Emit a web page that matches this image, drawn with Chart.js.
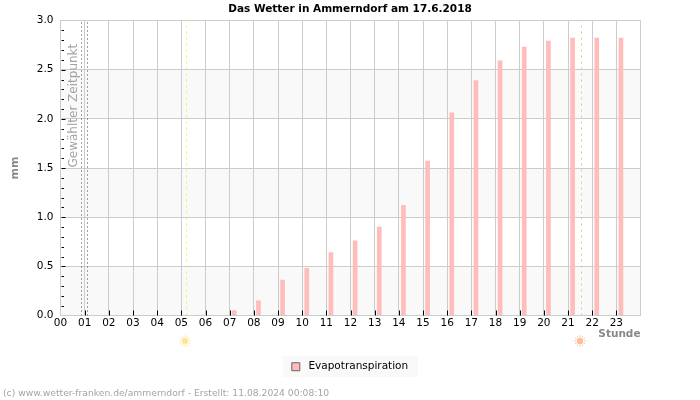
<!DOCTYPE html>
<html>
<head>
<meta charset="utf-8">
<title>Das Wetter in Ammerndorf</title>
<script src="https://cdn.jsdelivr.net/npm/chart.js@4/dist/chart.umd.min.js"></script>
<style>
    body { margin: 0; background: #fff; }
    canvas { display: block; }
</style>
</head>
<body>
<canvas id="wetter-chart" width="700" height="400"></canvas>
<script>
const hours = [7, 8, 9, 10, 11, 12, 13, 14, 15, 16, 17, 18, 19, 20, 21, 22, 23]
const evapotranspiration = [0.05, 0.15, 0.36, 0.48, 0.64, 0.76, 0.90, 1.12, 1.57, 2.06, 2.39, 2.59, 2.73, 2.79, 2.82, 2.82, 2.82]
const selectedTimes = [0.869, 1.117]
const sunrise = 5.214
const sunset = 21.559
const footerText = '(c) www.wetter-franken.de/ammerndorf - Erstellt: 11.08.2024 00:08:10'

const font = 'DejaVu Sans'
const pink = '#ffbcbc'

function vline(hour, color, dash) {
    return {
        type: 'line',
        label: 'marker',
        data: [{x: hour, y: 0}, {x: hour, y: 3}],
        borderColor: color,
        borderWidth: 1,
        borderDash: dash,
        pointRadius: 0,
        order: 1
    }
}

function drawSun(ctx, x, y, color) {
    ctx.strokeStyle = color
    ctx.fillStyle = color
    ctx.lineWidth = 1
    ctx.beginPath()
    ctx.arc(x, y, 3.2, 0, Math.PI * 2)
    ctx.fill()
    for (let i = 0; i < 12; i++) {
        const a = i * Math.PI / 6
        ctx.beginPath()
        ctx.moveTo(x + Math.cos(a) * 4, y + Math.sin(a) * 4)
        ctx.lineTo(x + Math.cos(a) * 5.8, y + Math.sin(a) * 5.8)
        ctx.stroke()
    }
}

// title and legend are centred on the whole page, not on the plot
const centerPlugin = {
    id: 'center',
    afterLayout(chart) {
        chart.legend.left = 0
        chart.legend.right = chart.width
        chart.titleBlock.left = 0
        chart.titleBlock.right = chart.width
    }
}

// grey bands and legend background go under everything else
const bandsPlugin = {
    id: 'bands',
    beforeDraw(chart) {
        const {ctx, chartArea, scales: {y}} = chart
        ctx.save()
        ctx.fillStyle = '#f9f9f9'
        for (let v = 0; v < 3; v++) {
            const top = y.getPixelForValue(v + 0.5)
            const bottom = y.getPixelForValue(v)
            ctx.fillRect(chartArea.left, top, chartArea.right - chartArea.left, bottom - top)
        }
        ctx.fillRect(283, 356, 135, 21)
        ctx.restore()
    }
}

const extrasPlugin = {
    id: 'extras',
    afterDraw(chart) {
        const {ctx, chartArea, scales: {x, y}} = chart
        ctx.save()
        // tick marks pointing into the plot
        ctx.strokeStyle = '#000'
        ctx.lineWidth = 1
        y.ticks.forEach(t => {
            const py = Math.round(y.getPixelForValue(t.value)) + 0.5
            const major = Math.round(t.value * 10) % 5 === 0
            if (t.value <= 0 || t.value >= 3) return
            ctx.beginPath()
            ctx.moveTo(chartArea.left + 1, py)
            ctx.lineTo(chartArea.left + (major ? 5 : 3.5), py)
            ctx.stroke()
        })
        x.ticks.forEach(t => {
            if (t.value === 0 || t.value === 24) return
            const px = Math.round(x.getPixelForValue(t.value)) + 0.5
            ctx.beginPath()
            ctx.moveTo(px, chartArea.bottom - 5)
            ctx.lineTo(px, chartArea.bottom)
            ctx.stroke()
        })

        ctx.fillStyle = '#a4a4a4'
        ctx.font = '12px "' + font + '"'
        ctx.textAlign = 'left'
        ctx.textBaseline = 'middle'
        ctx.translate(chartArea.left + 13, 167.5)
        ctx.rotate(-Math.PI / 2)
        ctx.fillText('Gewählter Zeitpunkt', 0, 0)
        ctx.restore()

        ctx.save()
        drawSun(ctx, x.getPixelForValue(sunrise) - 1.5, 341, '#fbe79c')
        drawSun(ctx, x.getPixelForValue(sunset) - 1.5, 341, '#ffbd9c')
        ctx.fillStyle = '#a4a4a4'
        ctx.font = '9.2px "' + font + '"'
        ctx.textBaseline = 'middle'
        ctx.fillText(footerText, 3, 393.5)
        ctx.restore()
    }
}

new Chart(document.getElementById('wetter-chart').getContext('2d'), {
    data: {
        datasets: [
            {
                type: 'bar',
                label: 'Evapotranspiration',
                data: hours.map((h, i) => ({x: h + 0.19, y: evapotranspiration[i]})),
                backgroundColor: pink,
                borderColor: '#666666',
                borderWidth: 0,
                barThickness: 4,
                order: 2
            },
            vline(selectedTimes[0], '#444444', [1, 3]),
            vline(selectedTimes[1], '#444444', [1, 3]),
            vline(sunrise, '#f2ee50', [2, 4]),
            vline(sunset, '#eec27c', [2, 4])
        ]
    },
    options: {
        responsive: false,
        animation: false,
        devicePixelRatio: 1,
        layout: {padding: {left: 9, right: 59.5, top: 0, bottom: 18}},
        plugins: {
            title: {
                display: true,
                text: 'Das Wetter in Ammerndorf am 17.6.2018',
                color: '#000',
                font: {family: font, size: 10.5, weight: 'bold'},
                padding: {top: 3, bottom: 4.9}
            },
            legend: {
                position: 'bottom',
                labels: {
                    color: '#000',
                    font: {family: font, size: 10.5},
                    boxWidth: 8,
                    boxHeight: 8,
                    padding: 10,
                    generateLabels: chart => [{
                        text: '\u00a0Evapotranspiration',
                        fillStyle: pink,
                        strokeStyle: '#666666',
                        lineWidth: 1,
                        datasetIndex: 0
                    }]
                }
            },
            tooltip: {enabled: false}
        },
        scales: {
            x: {
                type: 'linear',
                min: 0,
                max: 24,
                offset: false,
                afterFit: s => { s.height = 36 },
                ticks: {
                    stepSize: 1,
                    autoSkip: false,
                    maxRotation: 0,
                    padding: 1,
                    color: '#000',
                    font: {family: font, size: 10.5},
                    callback: v => v === 24 ? '' : String(v).padStart(2, '0')
                },
                grid: {color: '#cccccc', lineWidth: 1, drawTicks: false, offset: false},
                border: {color: '#cccccc'},
                title: {
                    display: true,
                    text: 'Stunde',
                    align: 'end',
                    color: '#888888',
                    font: {family: font, size: 10.5, weight: 'bold'},
                    padding: {top: 0, bottom: 11.2}
                }
            },
            y: {
                min: 0,
                max: 3,
                afterFit: s => { s.width = 51.5 },
                ticks: {
                    stepSize: 0.1,
                    autoSkip: false,
                    padding: 7,
                    color: '#000',
                    font: {family: font, size: 10.5},
                    callback: v => Math.round(v * 10) % 5 === 0 ? v.toFixed(1) : ''
                },
                grid: {
                    drawTicks: false,
                    lineWidth: 1,
                    color: c => Math.round(c.tick.value * 10) % 5 === 0 ? '#cccccc' : 'transparent'
                },
                border: {color: '#cccccc'},
                title: {
                    display: true,
                    text: 'mm',
                    color: '#888888',
                    font: {family: font, size: 11, weight: 'bold'},
                    padding: {top: 0, bottom: 4}
                }
            }
        }
    },
    plugins: [centerPlugin, bandsPlugin, extrasPlugin]
})
</script>
</body>
</html>
